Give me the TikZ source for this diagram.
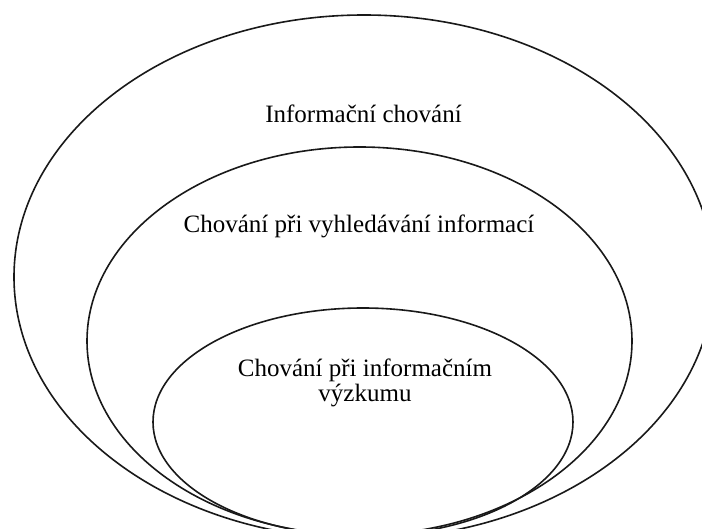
\documentclass[tikz,border=0pt]{standalone}
\usepackage{fontspec}
\setmainfont{Liberation Serif}
\begin{document}
\begin{tikzpicture}[x=1pt,y=-1pt,
  ring/.style={draw=black!90,line width=1.6pt},
  caption/.style={anchor=base,inner sep=0pt,font=\fontsize{25}{25}\selectfont,align=center}]
\useasboundingbox (0,0) rectangle (702,529);
\clip (0,0) rectangle (702,529);
% nested ellipses, all running off the lower edge
\draw[ring] (364,277) ellipse [x radius=350,y radius=262];
\draw[ring] (359.5,341) ellipse [x radius=272.5,y radius=194];
\draw[ring] (363,422) ellipse [x radius=210,y radius=114];
% labels
\node[caption] (outer) at (363.5,123) {Informační chování};
\node[caption] (middle) at (359,233) {Chování při vyhledávání informací};
\node[caption] (inner) at (365,402) {Chování při informačním\\výzkumu};
\end{tikzpicture}
\end{document}
